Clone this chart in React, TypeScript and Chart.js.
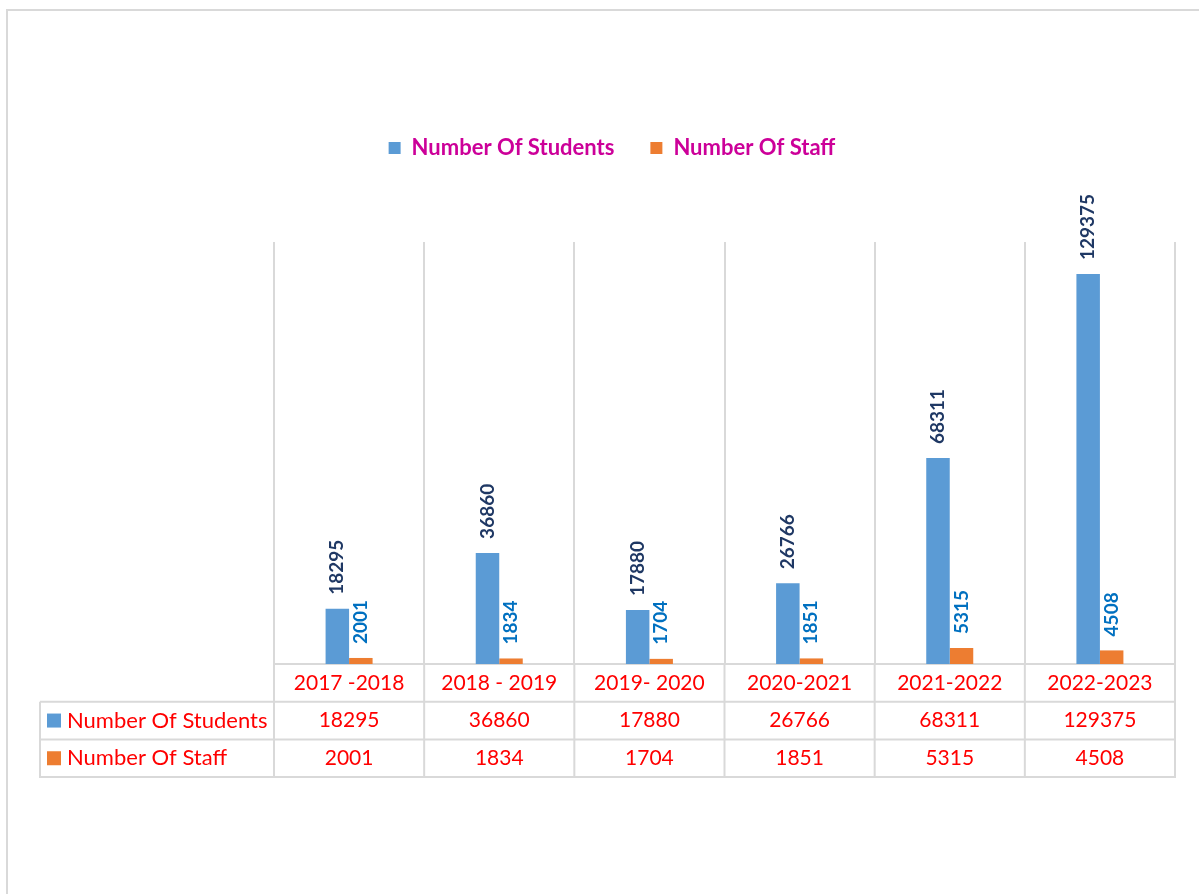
import React, { useEffect, useRef } from "react";
import { Chart, registerables } from "chart.js";

Chart.register(...registerables);

const categories = ["2017 -2018", "2018 - 2019", "2019- 2020", "2020-2021", "2021-2022", "2022-2023"];
const seriesNames = ["Number Of Students", "Number Of Staff"];
const students = [18295, 36860, 17880, 26766, 68311, 129375];
const staff = [2001, 1834, 1704, 1851, 5315, 4508];
const seriesColors = ["#5B9BD5", "#ED7D31"];
const labelColors = ["#1F3864", "#0070C0"];

const FONT = "Lato, 'Open Sans', sans-serif";
const GRID = "#D9D9D9";
const RED = "#FF0000";

const tablePlugin = {
  id: "tableAndLabels",
  beforeDraw(chart: any) {
    const ctx = chart.ctx;
    ctx.save();
    ctx.fillStyle = "#ffffff";
    ctx.fillRect(0, 0, chart.width, chart.height);
    ctx.strokeStyle = GRID;
    ctx.lineWidth = 2;
    ctx.strokeRect(7, 10, chart.width + 20, chart.height + 20);
    ctx.restore();
  },
  afterDatasetsDraw(chart: any) {
    const ctx = chart.ctx;
    ctx.save();
    ctx.font = `bold 19px ${FONT}`;
    ctx.textAlign = "left";
    ctx.textBaseline = "middle";
    chart.data.datasets.forEach((ds: any, di: number) => {
      const meta = chart.getDatasetMeta(di);
      ctx.fillStyle = labelColors[di];
      meta.data.forEach((el: any, i: number) => {
        ctx.save();
        ctx.translate(el.x, el.y - 14);
        ctx.rotate(-Math.PI / 2);
        ctx.fillText(String(ds.data[i]), 0, 0);
        ctx.restore();
      });
    });
    ctx.restore();
  },
  afterDraw(chart: any) {
    const ctx = chart.ctx;
    const xs = chart.scales.x;
    const n = categories.length;
    const colW = (xs.right - xs.left) / n;
    const y0 = chart.chartArea.bottom;
    const rowH = 37.7;
    const tableLeft = 40;
    const rows = [students, staff];
    ctx.save();
    ctx.strokeStyle = GRID;
    ctx.lineWidth = 2;
    ctx.beginPath();
    for (let k = 1; k <= 3; k++) {
      const y = y0 + rowH * k;
      ctx.moveTo(tableLeft, y);
      ctx.lineTo(xs.right, y);
    }
    ctx.moveTo(tableLeft, y0 + rowH);
    ctx.lineTo(tableLeft, y0 + rowH * 3 + 1);
    for (let i = 0; i <= n; i++) {
      const x = xs.left + colW * i;
      ctx.moveTo(x, y0);
      ctx.lineTo(x, y0 + rowH * 3 + 1);
    }
    ctx.stroke();

    ctx.textBaseline = "middle";
    rows.forEach((vals, r) => {
      const cy = y0 + rowH * (r + 1.5);
      ctx.fillStyle = seriesColors[r];
      ctx.fillRect(47, cy - 7, 14, 14);
      ctx.fillStyle = RED;
      ctx.font = `22px ${FONT}`;
      ctx.textAlign = "left";
      ctx.fillText(seriesNames[r], 67, cy);
      ctx.font = `21px ${FONT}`;
      ctx.textAlign = "center";
      vals.forEach((v, i) => {
        ctx.fillText(String(v), xs.getPixelForValue(i), cy);
      });
    });
    ctx.restore();
  },
};

export default function App() {
  const ref = useRef<HTMLCanvasElement>(null);
  useEffect(() => {
    if (!ref.current) return;
    const chart = new Chart(ref.current, {
      type: "bar",
      data: {
        labels: categories,
        datasets: [
          { label: seriesNames[0], data: students, backgroundColor: seriesColors[0], borderWidth: 0 },
          { label: seriesNames[1], data: staff, backgroundColor: seriesColors[1], borderWidth: 0 },
        ],
      },
      plugins: [tablePlugin],
      options: {
        responsive: false,
        animation: false,
        devicePixelRatio: 1,
        layout: { padding: { left: 49, right: 24, top: 101, bottom: 0 } },
        datasets: { bar: { categoryPercentage: 0.313, barPercentage: 1 } },
        plugins: {
          tooltip: { enabled: false },
          legend: {
            position: "top",
            labels: {
              font: { family: FONT, size: 22, weight: "bold" },
              color: "#CC0099",
              boxWidth: 12,
              boxHeight: 12,
              padding: 36,
            },
          },
        },
        scales: {
          x: {
            position: "bottom",
            grid: { display: true, offset: true, color: GRID, lineWidth: 2, drawTicks: false },
            border: { display: true, color: GRID, width: 2 },
            ticks: { color: RED, font: { family: FONT, size: 21 }, padding: 7, maxRotation: 0, autoSkip: false },
            afterFit: (s: any) => { s.height = 230; },
          },
          xTop: {
            type: "category",
            position: "top",
            labels: categories,
            grid: { display: false },
            border: { display: false },
            ticks: { display: false },
            afterFit: (s: any) => { s.height = 73; },
          },
          y: {
            min: 0,
            max: 140000,
            grid: { display: false },
            border: { display: false },
            ticks: { display: false },
            afterFit: (s: any) => { s.width = 225; },
          },
        },
      },
    });
    return () => chart.destroy();
  }, []);
  return (
    <div style={{ position: "absolute", left: 0, top: 0, width: 1199, height: 894 }}>
      <canvas ref={ref} width={1199} height={894} />
    </div>
  );
}
